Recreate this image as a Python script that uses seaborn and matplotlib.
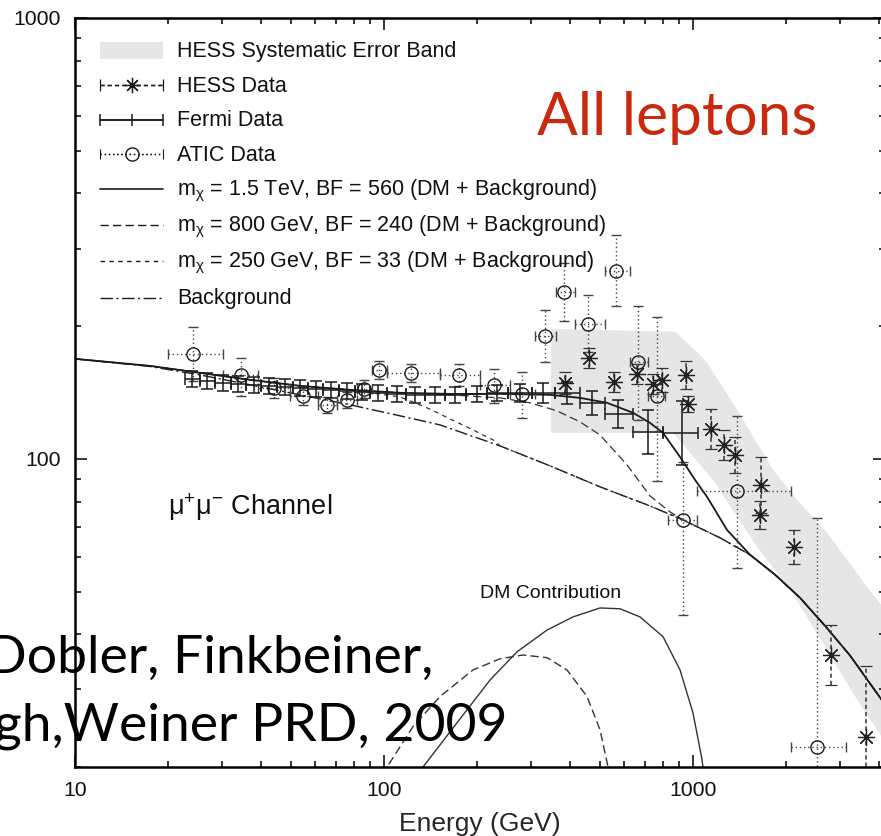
import numpy as np
import matplotlib
matplotlib.use("Agg")
import matplotlib.pyplot as plt
import matplotlib.ticker as mticker
from matplotlib.patches import Patch, Rectangle
from matplotlib.legend_handler import HandlerErrorbar, HandlerPatch, HandlerLine2D
import seaborn as sns

# E^3 x flux (GeV^2 m^-2 s^-1 sr^-1) against energy (GeV)

# background only
bg_E = [10.0, 17.5, 25.4, 36.9, 53.5, 77.6, 112.7, 151.8, 237.4, 344.5, 500.0,
        725.6, 928.0, 1223, 1529, 1843, 2220, 2674, 3222, 4182]
bg_F = [168.6, 162.0, 155.0, 147.2, 139.7, 132.6, 125.2, 119.4, 107.0, 96.4, 86.4,
        78.2, 72.7, 66.2, 60.6, 54.6, 48.4, 41.8, 35.8, 27.7]

# DM + background, m_chi = 1.5 TeV
m15_E = [10.0, 17.5, 25.4, 36.9, 53.5, 77.6, 112.7, 163.6, 237.4, 344.5, 430.8,
         526.9, 639.5, 725.6, 799.6, 907.7, 1015, 1110, 1288, 1529, 1843, 2220,
         2674, 3222, 4182]
m15_F = [168.6, 162.5, 156.7, 151.1, 146.4, 143.4, 141.2, 140.4, 140.4, 139.7, 137.5,
         134.0, 127.2, 120.7, 114.5, 101.0, 89.6, 82.0, 69.0, 60.6, 54.6, 48.4,
         41.8, 35.8, 27.7]

# DM + background, m_chi = 800 GeV
m800_E = [10.0, 17.5, 25.4, 36.9, 53.5, 77.6, 112.7, 163.6, 237.4, 296.9, 362.9,
          430.8, 500.0, 611.5, 725.6, 842.4, 928.0, 1223, 1529, 1843, 2220, 2674,
          3222, 4182]
m800_F = [168.6, 162.5, 156.7, 151.1, 146.4, 143.4, 141.2, 139.7, 137.5, 134.0, 128.5,
          121.3, 113.3, 96.9, 82.4, 75.8, 72.7, 66.2, 60.6, 54.6, 48.4, 41.8,
          35.8, 27.7]

# DM + background, m_chi = 250 GeV
m250_E = [10.0, 17.5, 25.4, 36.9, 53.5, 77.6, 112.7, 135.7, 163.6, 197.0, 228.7,
          237.4, 344.5, 500.0, 725.6, 928.0, 1223, 1529, 1843, 2220, 2674, 3222, 4182]
m250_F = [168.6, 162.5, 156.7, 151.1, 146.4, 143.4, 138.2, 131.2, 123.2, 115.7, 109.8,
          107.0, 96.4, 86.4, 78.2, 72.7, 66.2, 60.6, 54.6, 48.4, 41.8, 35.8, 27.7]

# DM contribution alone
dm15_E = [121.4, 133.7, 172.3, 220.3, 269.4, 337.0, 408.9, 500.0, 580.4, 673.7,
          799.6, 907.7, 1000, 1069, 1085]
dm15_F = [18.7, 20.0, 25.2, 31.5, 36.5, 40.9, 43.8, 45.9, 45.7, 43.8,
          39.5, 33.2, 26.5, 20.8, 19.2]
dm800_E = [93.5, 102.3, 124.1, 151.8, 194.1, 237.4, 281.8, 337.0, 391.0, 453.9,
           500.0, 530.8, 542.7]
dm800_F = [18.2, 20.0, 24.7, 28.9, 33.2, 35.2, 35.9, 35.4, 33.2, 28.9,
           24.3, 20.0, 18.2]

# HESS systematic error band (upper and lower edges)
band_up_E = [347, 875, 1030, 1110, 1346, 1814, 2172, 2716, 3659, 4677]
band_up_F = [197.3, 194.2, 174.9, 165.2, 134.0, 94.4, 80.7, 67.9, 51.3, 41.0]
band_lo_E = [347, 861, 1161, 1612, 2061, 2445, 3396, 4343]
band_lo_F = [114.6, 114.6, 89.6, 63.1, 50.5, 41.6, 28.4, 21.9]

# HESS data
hess_E = [385, 461, 555, 659, 742, 794, 949, 963, 1143, 1260, 1367, 1648, 1660,
          2122, 2796, 3629]
hess_F = [148.7, 169.4, 149.5, 155.9, 148.0, 151.1, 155.1, 133.3, 117.0, 107.6,
          102.1, 74.6, 87.3, 63.2, 35.9, 23.4]
hess_lo = [140.4, 160.8, 141.9, 148.0, 140.5, 141.9, 144.1, 127.8, 105.4, 99.5,
           92.9, 69.3, 75.4, 57.8, 30.7, 16.0]
hess_hi = [157.5, 178.5, 157.5, 164.3, 155.9, 160.9, 166.9, 139.0, 129.9, 116.3,
           112.2, 80.3, 101.1, 69.1, 42.0, 33.9]

# Fermi data
fermi_E = [23.9, 26.7, 30.1, 33.7, 37.95, 42.4, 47.8, 53.5, 60.3, 67.4, 75.9, 84.9,
           95.6, 110.2, 126.0, 146.2, 169.8, 200.0, 232.2, 275.5, 326.9, 391.0,
           471.0, 571.8, 715.1, 921.4]
fermi_E_lo = [22.7, 25.3, 28.4, 31.9, 35.8, 40.1, 45.1, 50.6, 56.8, 63.7, 71.5, 80.3,
              90.1, 102.6, 117.8, 135.7, 157.5, 184.3, 215.4, 252.8, 300.2, 357.5,
              430.8, 518.9, 639.5, 799.6]
fermi_E_hi = [25.3, 28.4, 31.9, 35.8, 40.1, 45.1, 50.6, 56.8, 63.7, 71.5, 80.3, 90.1,
              102.6, 117.8, 135.7, 157.5, 184.3, 215.4, 252.8, 300.2, 357.5, 430.8,
              518.9, 639.5, 799.6, 1038]
fermi_F = [151.9, 150.3, 148.7, 148.0, 147.2, 146.4, 145.7, 144.9, 144.1, 143.4, 142.6,
           141.9, 141.2, 140.4, 139.7, 139.7, 139.7, 140.4, 141.2, 141.2, 141.2, 141.2,
           134.0, 126.5, 115.1, 114.5]
fermi_lo = [145.7, 144.1, 142.6, 141.9, 141.2, 140.4, 139.7, 139.0, 138.2, 137.5, 136.8,
            136.1, 135.4, 134.7, 134.0, 134.0, 134.0, 134.7, 135.4, 134.7, 134.0, 133.3,
            125.9, 117.6, 102.6, 96.9]
fermi_hi = [158.4, 156.7, 155.0, 154.3, 153.5, 152.7, 151.9, 151.1, 150.3, 149.5, 148.7,
            148.0, 147.2, 146.4, 145.7, 145.7, 145.7, 146.4, 147.2, 148.0, 148.8, 149.5,
            142.7, 136.1, 129.1, 135.3]

# ATIC data
atic_E = [24.1, 34.5, 44.1, 54.7, 65.4, 75.9, 86.1, 96.3, 122.3, 174.9, 227.0, 279.6,
          331.9, 382.4, 457.3, 563.4, 663.7, 764.6, 928.4, 1388, 2519]
atic_E_lo = [20.0, 30.1, 39.1, 49.6, 61.2, 70.4, 81.8, 91.4, 102.3, 151.8, 204.5, 255.7,
             308.1, 360.3, 415.1, 518.9, 625.5, 715.1, 830.2, 1030, 2075]
atic_E_hi = [30.1, 39.1, 49.6, 61.2, 70.4, 81.8, 91.4, 102.3, 151.8, 204.5, 255.7, 308.1,
             360.3, 415.1, 518.9, 625.5, 715.1, 811.9, 1030, 2075, 3127]
atic_F = [173.0, 155.1, 144.9, 138.9, 132.6, 136.0, 144.1, 159.1, 156.7, 155.1, 147.2,
          140.4, 190.0, 239.1, 202.3, 266.9, 165.9, 138.9, 72.7, 84.6, 22.2]
atic_lo = [150.3, 138.9, 137.5, 132.6, 127.2, 130.5, 137.5, 151.9, 149.5, 146.4, 134.0,
           123.9, 165.9, 205.6, 174.8, 222.3, 122.6, 89.2, 44.3, 56.6, 10.0]
atic_hi = [199.2, 169.4, 152.7, 145.7, 138.2, 141.9, 151.1, 166.8, 164.2, 164.2, 160.0,
           157.5, 217.7, 278.2, 235.4, 322.0, 222.3, 209.9, 98.4, 125.2, 73.5]

legend_labels = [
    "HESS Systematic Error Band",
    "HESS Data",
    "Fermi Data",
    "ATIC Data",
    r"m$_{\chi}$ = 1.5 TeV, BF = 560 (DM + Background)",
    r"m$_{\chi}$ = 800 GeV, BF = 240 (DM + Background)",
    r"m$_{\chi}$ = 250 GeV, BF = 33 (DM + Background)",
    "Background",
]

sns.set_theme(style="ticks")
plt.rcParams.update({
    "font.family": ["Liberation Sans", "DejaVu Sans"],
    "mathtext.fontset": "custom",
    "mathtext.rm": "Liberation Sans",
    "mathtext.it": "Liberation Sans",
    "mathtext.sf": "Liberation Sans",
    "mathtext.default": "regular",
    "axes.edgecolor": "black",
    "axes.linewidth": 1.8,
    "text.color": "#111111",
    "xtick.color": "black",
    "ytick.color": "black",
    "lines.scale_dashes": False,
})

W, H = 881, 836
fig = plt.figure(figsize=(W / 100, H / 100), dpi=100)
fig.patch.set_facecolor("white")
ax = fig.add_axes([75 / W, 69 / H, 810 / W, 749 / H])
ax.set_facecolor("white")
ax.set_xscale("log")
ax.set_yscale("log")
ax.set_xlim(10, 4180)
ax.set_ylim(20, 1000)

INK = "#1a1a1a"
BAND = "#e6e6e6"
LS_LONG = (0, (6, 3))
LS_SHORT = (0, (3.2, 3.2))
LS_DASHDOT = (0, (9, 2.5, 1.5, 2.5))
LS_ERR_DASH = (0, (3, 2.2))
LS_ERR_DOT = (0, (1, 2))
STAR = (8, 2, 0)

# systematic band
ax.fill(np.r_[band_up_E, band_lo_E[::-1]], np.r_[band_up_F, band_lo_F[::-1]],
        color=BAND, lw=0, zorder=0)

# model curves
curve_kw = dict(ax=ax, legend=False, sort=False, estimator=None)
sns.lineplot(x=bg_E, y=bg_F, color=INK, lw=1.0, linestyle=LS_DASHDOT, zorder=2, **curve_kw)
sns.lineplot(x=m250_E, y=m250_F, color="#333333", lw=0.9, linestyle=LS_SHORT, zorder=2, **curve_kw)
sns.lineplot(x=m800_E, y=m800_F, color="#333333", lw=0.9, linestyle=LS_LONG, zorder=2, **curve_kw)
sns.lineplot(x=m15_E, y=m15_F, color=INK, lw=1.3, zorder=3, **curve_kw)
sns.lineplot(x=dm15_E, y=dm15_F, color="#333333", lw=1.0, zorder=2, **curve_kw)
sns.lineplot(x=dm800_E, y=dm800_F, color="#333333", lw=1.0, linestyle=LS_LONG, zorder=2, **curve_kw)


def asym(center, lo, hi):
    c = np.asarray(center, float)
    return [c - np.asarray(lo, float), np.asarray(hi, float) - c]


# ATIC
eb = ax.errorbar(atic_E, atic_F, xerr=asym(atic_E, atic_E_lo, atic_E_hi),
                 yerr=asym(atic_F, atic_lo, atic_hi), fmt="o", ms=9.5, mfc="none",
                 mec=INK, mew=1.0, ecolor="#444444", elinewidth=1.0, capsize=3.5,
                 capthick=0.8, zorder=4)
for c in eb[2]:
    c.set_linestyle(LS_ERR_DOT)

# HESS
eb = ax.errorbar(hess_E, hess_F, yerr=asym(hess_F, hess_lo, hess_hi), fmt="none",
                 ecolor="#333333", elinewidth=1.1, capsize=4, capthick=0.9, zorder=4)
for c in eb[2]:
    c.set_linestyle(LS_ERR_DASH)
sns.scatterplot(x=hess_E, y=hess_F, ax=ax, marker=STAR, s=135, color="#222222",
                linewidth=0.9, legend=False, zorder=5)

# Fermi
ax.errorbar(fermi_E, fermi_F, xerr=asym(fermi_E, fermi_E_lo, fermi_E_hi),
            yerr=asym(fermi_F, fermi_lo, fermi_hi), fmt="none", ecolor=INK,
            elinewidth=1.1, capsize=4.5, capthick=1.1, zorder=5)

# legend proxies
nan = [np.nan]
p_band = Patch(facecolor=BAND, edgecolor="none")
p_hess = ax.errorbar(nan, nan, xerr=[1.0], marker=STAR, ms=11, mec=INK, mew=0.9,
                     color=INK, ls=LS_ERR_DASH, lw=1.0, capsize=4, capthick=1.0,
                     ecolor=INK)
p_hess[2][0].set_linestyle(LS_ERR_DASH)
p_fermi = ax.errorbar(nan, nan, xerr=[1.0], marker="|", ms=8, mew=1.1, color=INK,
                      ls="-", lw=1.1, capsize=4.5, capthick=1.1, ecolor=INK)
p_atic = ax.errorbar(nan, nan, xerr=[1.0], marker="o", ms=9.5, mfc="none", mec=INK,
                     color=INK, ls=LS_ERR_DOT, lw=1.0, capsize=3.5, capthick=0.8,
                     ecolor=INK)
p_atic[2][0].set_linestyle(LS_ERR_DOT)
h15 = plt.Line2D([], [], color=INK, lw=1.2)
h800 = plt.Line2D([], [], color=INK, lw=1.0, ls=LS_LONG)
h250 = plt.Line2D([], [], color=INK, lw=1.0, ls=LS_SHORT)
hbg = plt.Line2D([], [], color=INK, lw=1.0, ls=LS_DASHDOT)

# legend handles sit a little lower so they line up with the label text
DY = 2.9


class LowErrorbar(HandlerErrorbar):
    def create_artists(self, legend, orig_handle, xdescent, ydescent, width,
                       height, fontsize, trans):
        return super().create_artists(legend, orig_handle, xdescent, ydescent + 2 * DY,
                                      width, height, fontsize, trans)


class LowLine(HandlerLine2D):
    def create_artists(self, legend, orig_handle, xdescent, ydescent, width,
                       height, fontsize, trans):
        return super().create_artists(legend, orig_handle, xdescent, ydescent + 2 * DY,
                                      width, height, fontsize, trans)


def band_handle(legend, orig_handle, xdescent, ydescent, width, height, fontsize):
    hh = 0.8 * fontsize
    yc = (height - ydescent) / 2 - DY
    return Rectangle((-xdescent, yc - hh / 2), width, hh)


FS_LEG = 15.5
FS_TICK = 15.3
HL = 2.93
herr = LowErrorbar(xerr_size=HL / 2 - 0.02)
hline = LowLine()
ax.legend([p_band, p_hess, p_fermi, p_atic, h15, h800, h250, hbg], legend_labels,
          handler_map={p_hess: herr, p_fermi: herr, p_atic: herr,
                       p_band: HandlerPatch(patch_func=band_handle),
                       h15: hline, h800: hline, h250: hline, hbg: hline},
          loc="upper left", bbox_to_anchor=(100 / W, 1 - 36 / H),
          bbox_transform=fig.transFigure, frameon=False, fontsize=FS_LEG,
          handlelength=HL, handleheight=1.62, handletextpad=0.65,
          labelspacing=0.308, borderpad=0, borderaxespad=0)

# axes styling
fmt = mticker.FuncFormatter(lambda v, p: f"{v:g}")
ax.xaxis.set_major_formatter(fmt)
ax.yaxis.set_major_formatter(fmt)
ax.xaxis.set_minor_formatter(mticker.NullFormatter())
ax.yaxis.set_minor_formatter(mticker.NullFormatter())
ax.tick_params(which="both", direction="in", top=True, right=True, width=1.1,
               labelsize=FS_TICK, labelcolor="#111111")
ax.tick_params(which="major", length=8.6, pad=10)
ax.tick_params(which="minor", length=4.6)
ax.set_xlabel("Energy (GeV)", fontsize=19, labelpad=8.5)
for s in ax.spines.values():
    s.set_zorder(6)

# annotations
fig.text(168 / W, 1 - 515 / H, r"$\mu^{+}\mu^{-}$ Channel", fontsize=19.5,
         va="baseline", ha="left")
fig.text(480 / W, 1 - 598 / H, "DM Contribution", fontsize=14,
         va="baseline", ha="left")
fig.text(537 / W, 1 - 135 / H, "All leptons", fontsize=43.5, family="Lato",
         color="#c8290f", va="baseline", ha="left")
fig.text(433 / W, 1 - 673 / H, "Dobler, Finkbeiner,", fontsize=38.5, family="Lato",
         color="black", va="baseline", ha="right", zorder=10)
fig.text(508 / W, 1 - 740 / H, "gh,Weiner PRD, 2009", fontsize=38.5, family="Lato",
         color="black", va="baseline", ha="right", zorder=10)

fig.savefig("out.png", dpi=100, facecolor="white")
